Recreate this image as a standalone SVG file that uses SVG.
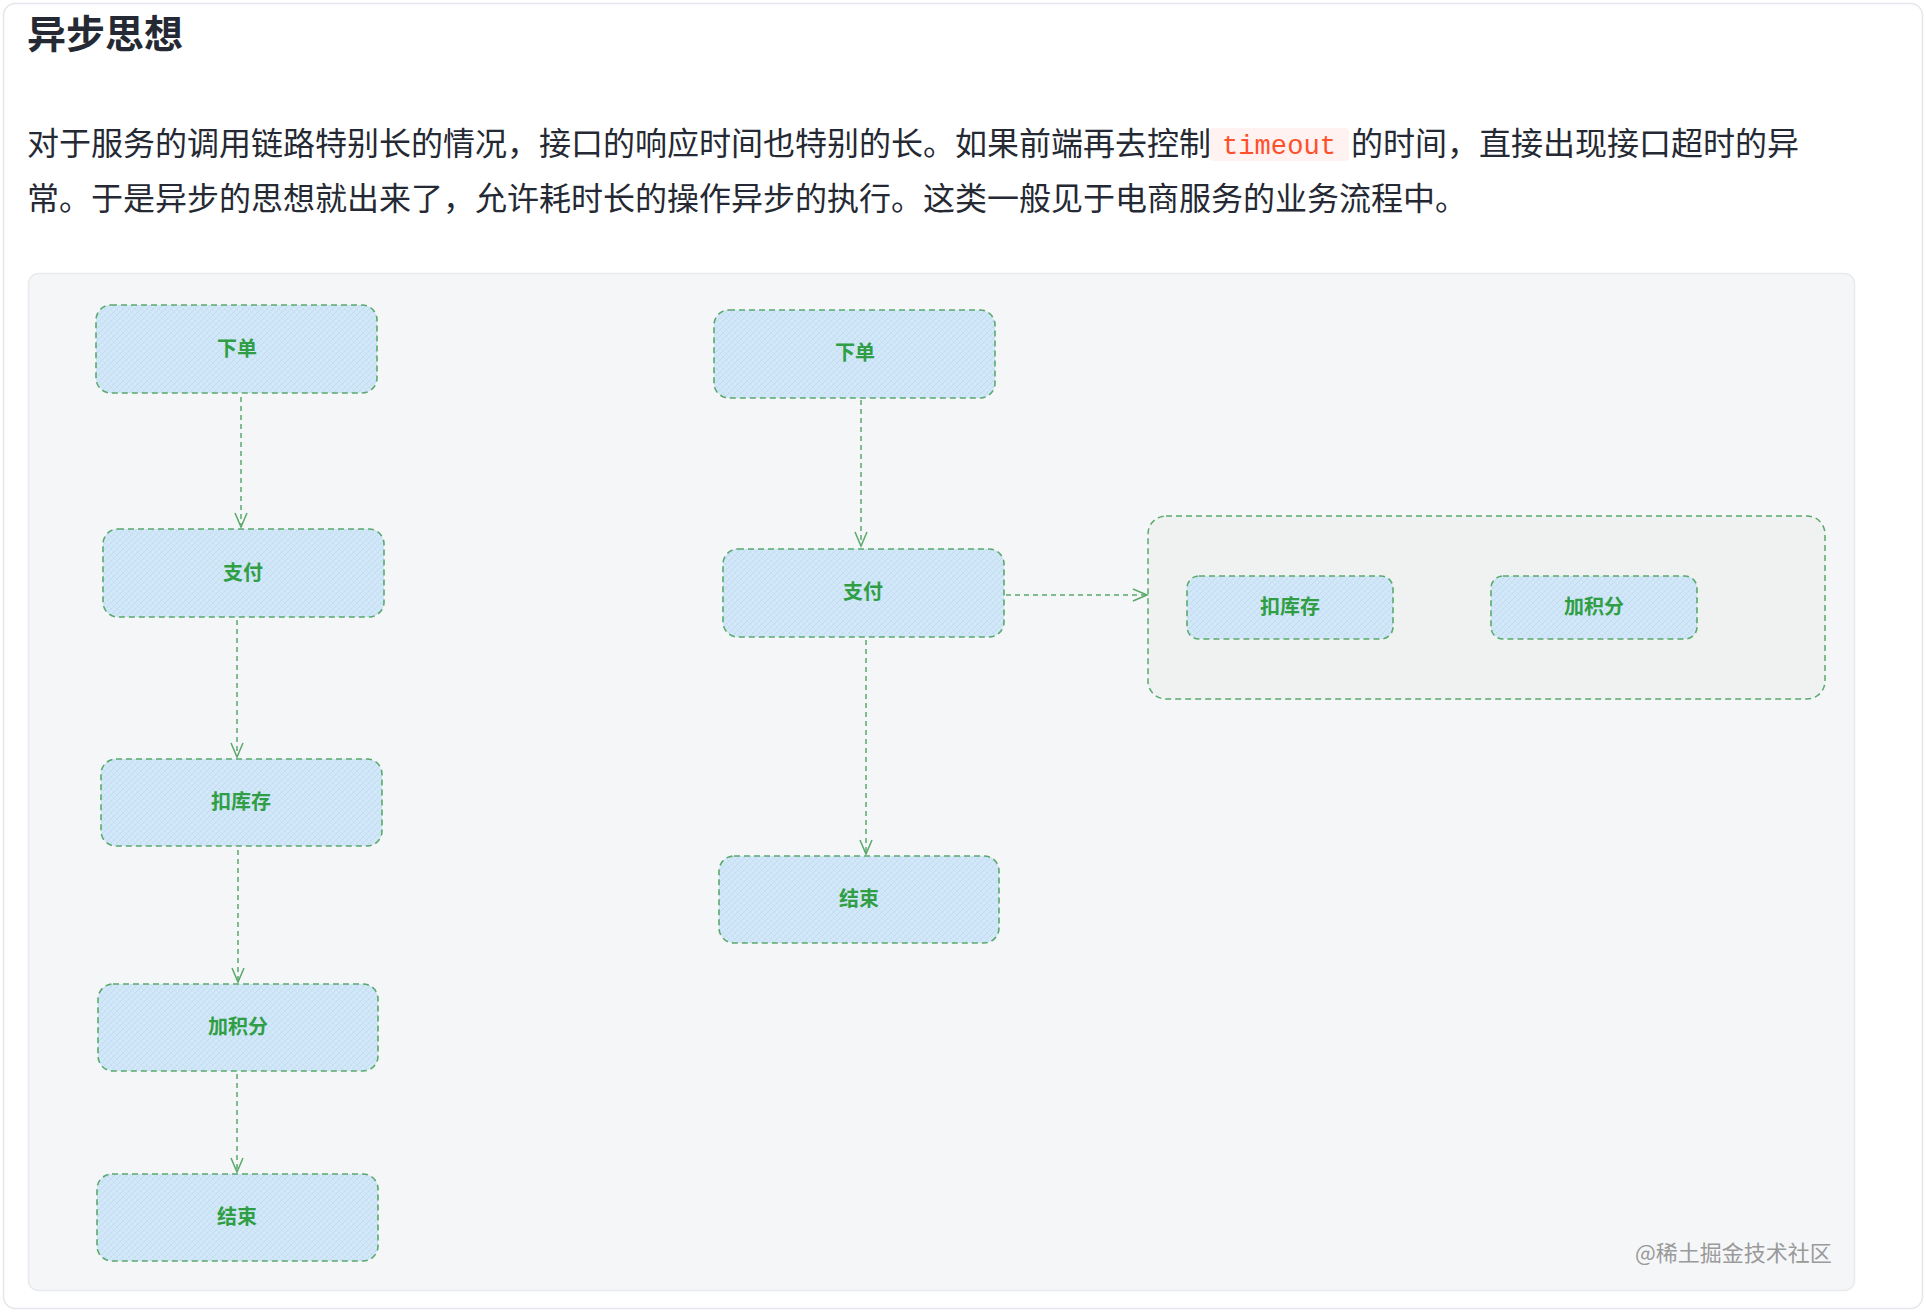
<svg xmlns="http://www.w3.org/2000/svg" width="1926" height="1312" viewBox="0 0 1926 1312">
  <style>
    .body { font-family: "Noto Sans CJK SC", "Noto Sans", sans-serif; fill: #252933; }
    .title { font-family: "Noto Sans CJK SC", "Noto Sans", sans-serif; font-weight: bold; font-size: 39px; fill: #252933; }
    .para { font-size: 32px; }
    .code { font-family: "Liberation Mono", "DejaVu Sans Mono", monospace; font-size: 27px; fill: #ff502c; }
    .node rect { fill: url(#hatch); stroke: #5aa96c; stroke-width: 1.6; stroke-dasharray: 6 4; }
    .node text { font-family: "Noto Sans CJK SC", "Noto Sans", sans-serif; font-weight: bold; font-size: 20px; fill: #2f9e44; text-anchor: middle; }
    .edge { fill: none; stroke: #5aa96c; stroke-width: 1.5; stroke-dasharray: 5 4; }
    .wm { font-family: "Noto Sans CJK SC", "Noto Sans", sans-serif; font-size: 22px; fill: #9a9a9a; }
  </style>
  <defs>
    <pattern id="hatch" patternUnits="userSpaceOnUse" width="6" height="6">
      <rect width="6" height="6" fill="#d2e7f8"/>
      <path d="M0 6 L6 0 M-1 1 L1 -1 M5 7 L7 5" stroke="#bcdaf3" stroke-width="0.8"/>
      <path d="M0 0 L6 6 M-1 5 L1 7 M5 -1 L7 1" stroke="#c6dff4" stroke-width="0.6"/>
    </pattern>
    <marker id="arrow" markerWidth="18" markerHeight="18" refX="15" refY="9" orient="auto" markerUnits="userSpaceOnUse">
      <path d="M1 3 L15 9 L1 15" fill="none" stroke="#5aa96c" stroke-width="1.5"/>
    </marker>
  </defs>

  <!-- page card -->
  <rect x="3.5" y="3.5" width="1919" height="1305" rx="12" fill="#ffffff" stroke="#e4e6eb" stroke-width="1.5"/>

  <!-- heading and paragraph -->
  <text class="title" x="27" y="48">异步思想</text>
  <rect x="1210" y="128" width="139" height="33" rx="4" fill="#fff2f1"/>
  <g class="body para">
    <text x="27" y="155" textLength="1184" lengthAdjust="spacing">对于服务的调用链路特别长的情况，接口的响应时间也特别的长。如果前端再去控制</text>
    <text class="code" x="1222" y="154" textLength="114" lengthAdjust="spacingAndGlyphs">timeout</text>
    <text x="1351" y="155" textLength="448" lengthAdjust="spacing">的时间，直接出现接口超时的异</text>
    <text x="27" y="210">常。于是异步的思想就出来了，允许耗时长的操作异步的执行。这类一般见于电商服务的业务流程中。</text>
  </g>

  <!-- diagram panel -->
  <rect x="28.5" y="273.5" width="1826" height="1017" rx="10" fill="#f5f6f8" stroke="#e8eaed" stroke-width="1.5"/>

  <!-- async group container -->
  <g id="async-group">
    <rect x="1148" y="516" width="677" height="183" rx="18" fill="#f0f2f2" stroke="#5aa96c" stroke-width="1.5" stroke-dasharray="6 4"/>
  </g>

  <!-- connectors -->
  <g id="connectors">
    <path class="edge" d="M241 397 L241 527" marker-end="url(#arrow)"/>
    <path class="edge" d="M237 620 L237 757" marker-end="url(#arrow)"/>
    <path class="edge" d="M238 850 L238 982" marker-end="url(#arrow)"/>
    <path class="edge" d="M237 1074 L237 1172" marker-end="url(#arrow)"/>
    <path class="edge" d="M861 400 L861 546" marker-end="url(#arrow)"/>
    <path class="edge" d="M866 640 L866 854" marker-end="url(#arrow)"/>
    <path class="edge" d="M1006 595 L1147 595" marker-end="url(#arrow)"/>
  </g>

  <!-- left (synchronous) flow -->
  <g id="sync-order" class="node">
    <rect x="96" y="305" width="281" height="88" rx="15"/>
    <text x="237" y="356">下单</text>
  </g>
  <g id="sync-pay" class="node">
    <rect x="103" y="529" width="281" height="88" rx="15"/>
    <text x="243" y="580">支付</text>
  </g>
  <g id="sync-stock" class="node">
    <rect x="101" y="759" width="281" height="87" rx="15"/>
    <text x="241" y="809">扣库存</text>
  </g>
  <g id="sync-points" class="node">
    <rect x="98" y="984" width="280" height="87" rx="15"/>
    <text x="238" y="1034">加积分</text>
  </g>
  <g id="sync-end" class="node">
    <rect x="97" y="1174" width="281" height="87" rx="15"/>
    <text x="237" y="1224">结束</text>
  </g>

  <!-- right (asynchronous) flow -->
  <g id="async-order" class="node">
    <rect x="714" y="310" width="281" height="88" rx="15"/>
    <text x="855" y="360">下单</text>
  </g>
  <g id="async-pay" class="node">
    <rect x="723" y="549" width="281" height="88" rx="15"/>
    <text x="863" y="599">支付</text>
  </g>
  <g id="async-end" class="node">
    <rect x="719" y="856" width="280" height="87" rx="15"/>
    <text x="859" y="906">结束</text>
  </g>
  <g id="async-stock" class="node">
    <rect x="1187" y="576" width="206" height="63" rx="12"/>
    <text x="1290" y="614">扣库存</text>
  </g>
  <g id="async-points" class="node">
    <rect x="1491" y="576" width="206" height="63" rx="12"/>
    <text x="1594" y="614">加积分</text>
  </g>

  <!-- watermark -->
  <text class="wm" x="1635" y="1261">@稀土掘金技术社区</text>
</svg>
